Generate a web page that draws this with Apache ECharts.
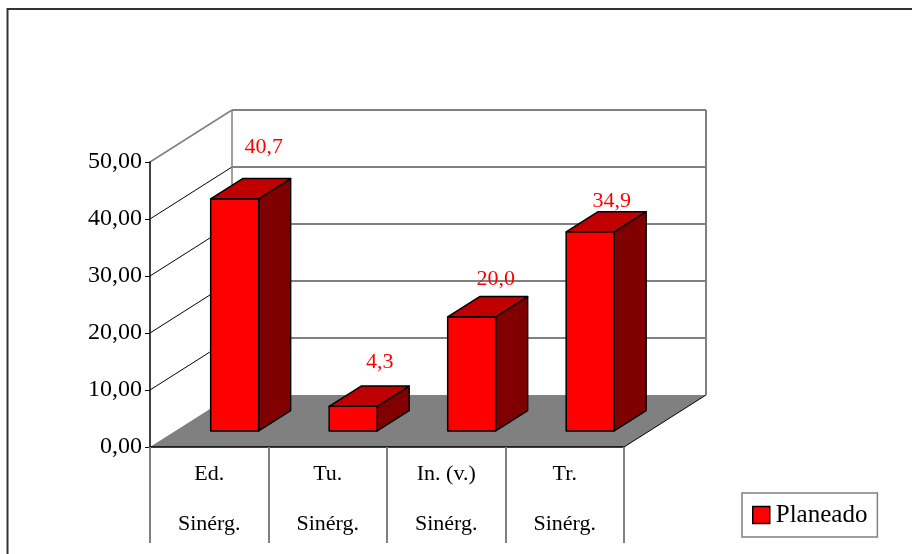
<!DOCTYPE html>
<html>
<head>
<meta charset="utf-8">
<script src="https://cdn.jsdelivr.net/npm/echarts@6/dist/echarts.min.js"></script>
<style>
  html, body { margin: 0; padding: 0; background: #fff; }
  #chart_main { width: 912px; height: 554px; }
</style>
</head>
<body>
<div id="chart_main"></div>
<script>
  // data
  const categories = ['Ed.\nSinérg.', 'Tu.\nSinérg.', 'In. (v.)\nSinérg.', 'Tr.\nSinérg.'];
  const planeado = [40.7, 4.3, 20.0, 34.9];
  const yTickValues = [0, 10, 20, 30, 40, 50];
  const seriesName = 'Planeado';

  const FONT = "'Liberation Serif', 'Times New Roman', serif";
  // depth of the 3d box in pixels
  const DX = 82, DY = -52;
  const GRAY = '#808080';

  let myChart = echarts.init(document.getElementById('chart_main'));

  function renderWalls(params, api) {
    let cs = params.coordSys;
    let x0 = cs.x, x1 = cs.x + cs.width;
    let yb = cs.y + cs.height;
    let children = [];
    // floor
    children.push({
      type: 'polygon',
      shape: { points: [[x0, yb], [x1, yb], [x1 + DX, yb + DY], [x0 + DX, yb + DY]] },
      style: { fill: GRAY, stroke: null }
    });
    children.push({
      type: 'line',
      shape: { x1: x1, y1: yb, x2: x1 + DX, y2: yb + DY },
      style: { stroke: '#000', lineWidth: 1 }
    });
    let yTop = api.coord([0, yTickValues[yTickValues.length - 1]])[1];
    yTickValues.forEach(function (v, idx) {
      if (v === 0) return;
      let y = api.coord([0, v])[1];
      let last = idx === yTickValues.length - 1;
      // side wall line
      children.push({
        type: 'line',
        shape: { x1: x0, y1: y, x2: x0 + DX, y2: y + DY },
        style: { stroke: last ? GRAY : '#000', lineWidth: last ? 1.5 : 1 }
      });
      // back wall line
      children.push({
        type: 'line',
        shape: { x1: x0 + DX, y1: y + DY, x2: x1 + DX, y2: y + DY },
        style: { stroke: GRAY, lineWidth: 2 }
      });
    });
    // back wall edges
    children.push({
      type: 'line',
      shape: { x1: x0 + DX, y1: yTop + DY, x2: x0 + DX, y2: yb + DY },
      style: { stroke: GRAY, lineWidth: 1.5 }
    });
    children.push({
      type: 'line',
      shape: { x1: x1 + DX, y1: yTop + DY, x2: x1 + DX, y2: yb + DY },
      style: { stroke: GRAY, lineWidth: 2 }
    });
    return { type: 'group', children: children };
  }

  function renderBar(params, api) {
    let i = api.value(0);
    let v = api.value(1);
    let p0 = api.coord([i, 0]);
    let p1 = api.coord([i, v]);
    let band = api.size([1, 0])[0];
    let f = 0.31, d = 0.39;
    let w = band * 0.405;
    let cx = p0[0] + f * DX;
    let bottom = p0[1] + f * DY;
    let top = p1[1] + f * DY;
    let xl = cx - w / 2, xr = cx + w / 2;
    let dx = d * DX, dy = d * DY;
    let line = { stroke: '#000', lineWidth: 1.5, lineJoin: 'round' };
    return {
      type: 'group',
      children: [
        {
          type: 'polygon',
          shape: { points: [[xr, top], [xr + dx, top + dy], [xr + dx, bottom + dy], [xr, bottom]] },
          style: Object.assign({ fill: '#800000' }, line)
        },
        {
          type: 'polygon',
          shape: { points: [[xl, top], [xl + dx, top + dy], [xr + dx, top + dy], [xr, top]] },
          style: Object.assign({ fill: '#C00000' }, line)
        },
        {
          type: 'rect',
          shape: { x: xl, y: top, width: w, height: bottom - top },
          style: Object.assign({ fill: '#FF0000' }, line)
        },
        {
          type: 'text',
          x: cx + dx - 3 - 2.5 * i,
          y: top + dy - 31 + 7 * i,
          style: {
            text: v.toFixed(1).replace('.', ','),
            fill: '#FF0000',
            font: '22px ' + FONT,
            align: 'center',
            verticalAlign: 'middle'
          }
        }
      ]
    };
  }

  let option = {
    backgroundColor: '#fff',
    animation: false,
    graphic: [
      {
        type: 'rect',
        shape: { x: 7.5, y: 9, width: 1000, height: 1000 },
        style: { fill: null, stroke: '#333', lineWidth: 2 },
        z: 100
      }
    ],
    grid: {
      left: 150,
      right: 288,
      top: 162,
      bottom: 107
    },
    legend: {
      data: [seriesName],
      left: 742,
      top: 493,
      orient: 'horizontal',
      icon: 'rect',
      itemWidth: 17,
      itemHeight: 17,
      itemGap: 5,
      padding: [8, 10, 8, 10],
      backgroundColor: '#fff',
      borderColor: GRAY,
      borderWidth: 1.5,
      borderRadius: 0,
      textStyle: {
        fontFamily: FONT,
        fontSize: 25,
        color: '#000',
        lineHeight: 28,
        padding: [0, 0, 0, 1]
      },
      itemStyle: { color: '#FF0000', borderColor: '#000', borderWidth: 1.5 }
    },
    xAxis: {
      type: 'category',
      data: categories,
      z: 10,
      axisLine: { show: true, lineStyle: { color: '#000', width: 1.5 } },
      axisTick: {
        show: true,
        length: 96,
        lineStyle: { color: GRAY, width: 2 }
      },
      axisLabel: {
        margin: 2,
        color: '#000',
        fontFamily: FONT,
        fontSize: 22,
        lineHeight: 50
      },
      splitLine: { show: false }
    },
    yAxis: {
      type: 'value',
      min: 0,
      max: 50,
      interval: 10,
      z: 10,
      axisLine: { show: true, lineStyle: { color: '#000', width: 1.5 } },
      axisTick: { show: true, length: 5, lineStyle: { color: '#000', width: 1 } },
      axisLabel: {
        margin: 8,
        color: '#000',
        fontFamily: FONT,
        fontSize: 24,
        formatter: function (v) { return v.toFixed(2).replace('.', ','); }
      },
      splitLine: { show: false }
    },
    series: [
      {
        name: 'walls',
        type: 'custom',
        renderItem: renderWalls,
        data: [[0, 0]],
        silent: true,
        z: 1
      },
      {
        name: seriesName,
        type: 'custom',
        renderItem: renderBar,
        itemStyle: { color: '#FF0000', borderColor: '#000', borderWidth: 1.5 },
        encode: { x: 0, y: 1 },
        data: planeado.map(function (v, i) { return [i, v]; }),
        z: 3
      }
    ]
  };

  myChart.setOption(option);
  window.addEventListener('resize', function () { myChart.resize(); });
</script>
</body>
</html>
